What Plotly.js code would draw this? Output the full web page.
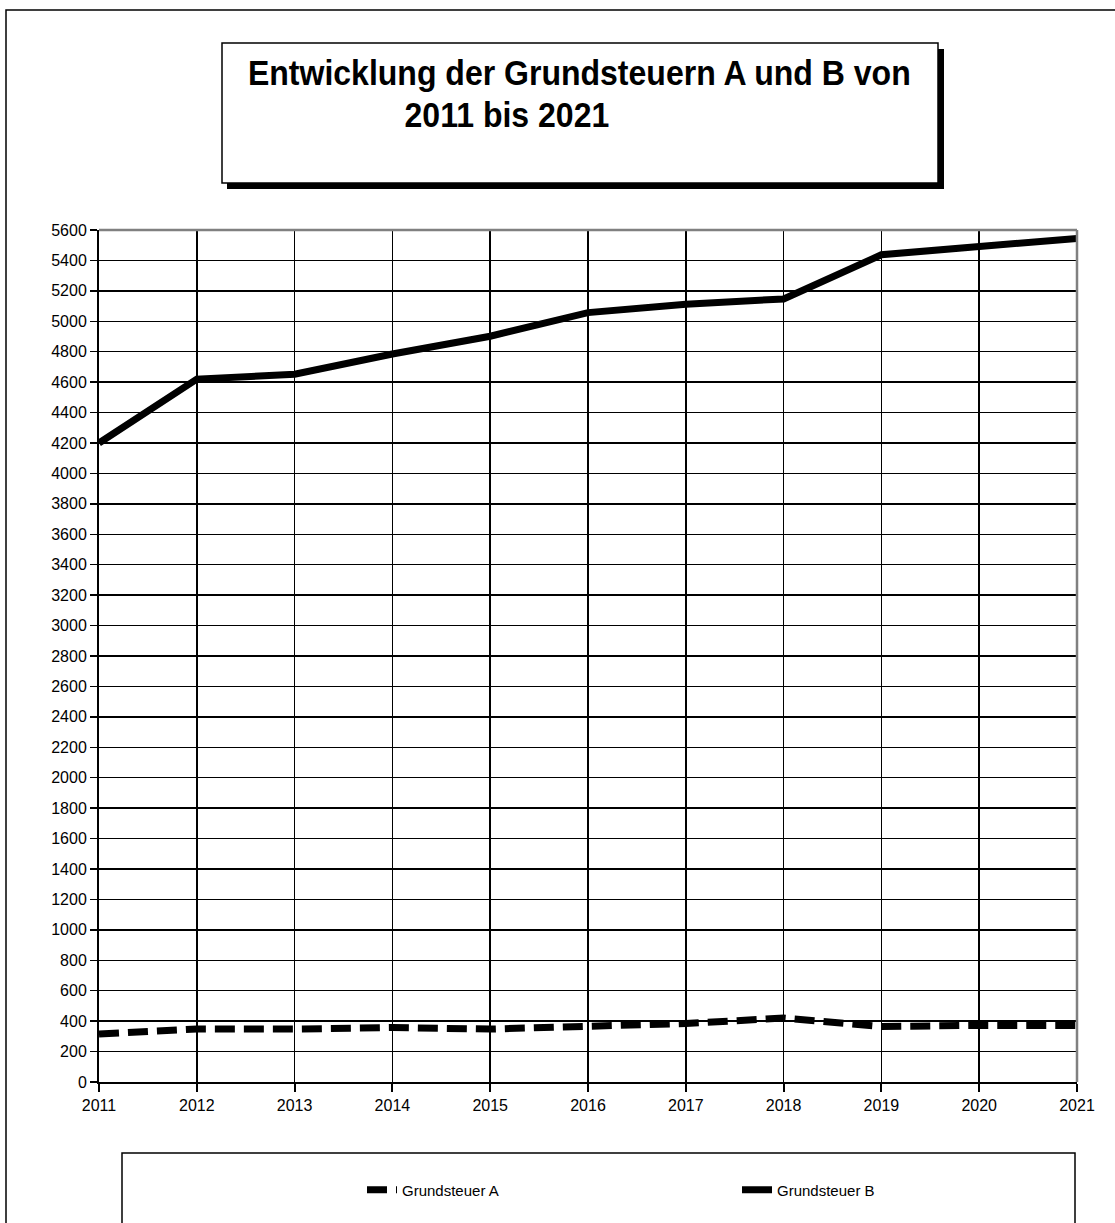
<!DOCTYPE html>
<html>
<head>
<meta charset="utf-8">
<script src="https://cdn.plot.ly/plotly-3.0.1.min.js"></script>
<style>
  html, body { margin: 0; padding: 0; background: #fff; overflow: hidden; }
  #chart { width: 1115px; height: 1223px; }
</style>
</head>
<body>
<div id="chart"></div>
<script>
// ---- data ----
const years = [2011, 2012, 2013, 2014, 2015, 2016, 2017, 2018, 2019, 2020, 2021];
const grundsteuerA = [315, 348, 348, 358, 348, 362, 385, 420, 365, 372, 372];
const grundsteuerB = [4200, 4620, 4652, 4785, 4902, 5057, 5112, 5147, 5437, 5487, 5545];
const seriesNames = ["Grundsteuer A", "Grundsteuer B"];
const titleLine1 = "Entwicklung der Grundsteuern A und B von";
const titleLine2 = "2011 bis 2021";
const yTicks = [];
for (let v = 0; v <= 5600; v += 200) yTicks.push(v);

// ---- geometry helpers (pixel -> paper) ----
const W = 1115, H = 1223;
const mL = 99, mR = 38, mT = 230, mB = 141;
const pw = W - mL - mR, ph = H - mT - mB;
const px = x => (x - mL) / pw;
const py = y => (H - mB - y) / ph;

const sans = "Liberation Sans, Arial, sans-serif";

const traces = [
  {
    x: years, y: grundsteuerA, name: seriesNames[0], type: "scatter", mode: "lines",
    line: { color: "#000", width: 7, dash: "20px,9px" }, legend: "legend"
  },
  {
    x: years, y: grundsteuerB, name: seriesNames[1], type: "scatter", mode: "lines",
    line: { color: "#000", width: 7 }, legend: "legend2"
  }
];

const legendBase = {
  orientation: "h", xanchor: "left", yanchor: "middle",
  font: { family: sans, size: 15, color: "#000" },
  bgcolor: "rgba(0,0,0,0)", borderwidth: 0
};

const layout = {
  width: W, height: H,
  margin: { l: mL, r: mR, t: mT, b: mB, pad: 0 },
  paper_bgcolor: "#fff", plot_bgcolor: "#fff",
  showlegend: true,
  legend: Object.assign({}, legendBase, { x: px(362), y: py(1190) }),
  legend2: Object.assign({}, legendBase, { x: px(737), y: py(1190) }),
  xaxis: {
    type: "linear", range: [2011, 2021], tickmode: "array", tickvals: years,
    ticktext: years.map(String),
    showgrid: true, gridcolor: "#000", gridwidth: 1.5,
    showline: true, linecolor: "#000", linewidth: 2,
    ticks: "outside", ticklen: 8, tickcolor: "#000", tickwidth: 2,
    tickfont: { family: sans, size: 16, color: "#000" },
    zeroline: false, fixedrange: true, automargin: false
  },
  yaxis: {
    range: [0, 5600], tickmode: "array", tickvals: yTicks,
    showgrid: true, gridcolor: "#000", gridwidth: 1.5,
    showline: true, linecolor: "#000", linewidth: 2,
    ticks: "outside", ticklen: 7, tickcolor: "#000", tickwidth: 1.5,
    tickfont: { family: sans, size: 16, color: "#000" },
    zeroline: false, fixedrange: true, automargin: false
  },
  shapes: [
    // outer frame
    { type: "rect", xref: "paper", yref: "paper", x0: px(6), x1: px(1125), y0: py(10), y1: py(1240),
      line: { color: "#000", width: 1.5 }, fillcolor: "rgba(0,0,0,0)", layer: "below" },
    // plot border top/right (gray)
    { type: "line", xref: "paper", yref: "paper", x0: 0, x1: 1, y0: 1, y1: 1,
      line: { color: "#808080", width: 2.5 } },
    { type: "line", xref: "paper", yref: "paper", x0: 1, x1: 1, y0: 0, y1: 1,
      line: { color: "#808080", width: 2.5 } },
    // title box shadow
    { type: "rect", xref: "paper", yref: "paper", x0: px(227), x1: px(944), y0: py(49), y1: py(189),
      line: { width: 0 }, fillcolor: "#000" },
    // title box
    { type: "rect", xref: "paper", yref: "paper", x0: px(222), x1: px(938), y0: py(43), y1: py(183),
      line: { color: "#000", width: 1.5 }, fillcolor: "#fff" },
    // legend box
    { type: "rect", xref: "paper", yref: "paper", x0: px(122), x1: px(1075), y0: py(1153), y1: py(1240),
      line: { color: "#000", width: 1.5 }, fillcolor: "rgba(0,0,0,0)" }
  ],
  annotations: [
    { xref: "paper", yref: "paper", x: px(579), y: py(72), xanchor: "center", yanchor: "middle",
      text: "<b>" + titleLine1 + "</b>", showarrow: false,
      font: { family: sans, size: 35, color: "#000" } },
    { xref: "paper", yref: "paper", x: px(507), y: py(114), xanchor: "center", yanchor: "middle",
      text: "<b>" + titleLine2 + "</b>", showarrow: false,
      font: { family: sans, size: 35, color: "#000" } }
  ]
};

// condensed look of the title (the original uses a narrow bold face)
function condenseTitle() {
  const s = 0.915;
  document.querySelectorAll("#chart .annotation-text").forEach(t => {
    const b = t.getBBox();
    const cx = b.x + b.width / 2;
    t.setAttribute("transform", `translate(${cx},0) scale(${s},1) translate(${-cx},0)`);
  });
}

Plotly.newPlot("chart", traces, layout, { displayModeBar: false, staticPlot: true })
  .then(condenseTitle);
</script>
</body>
</html>
